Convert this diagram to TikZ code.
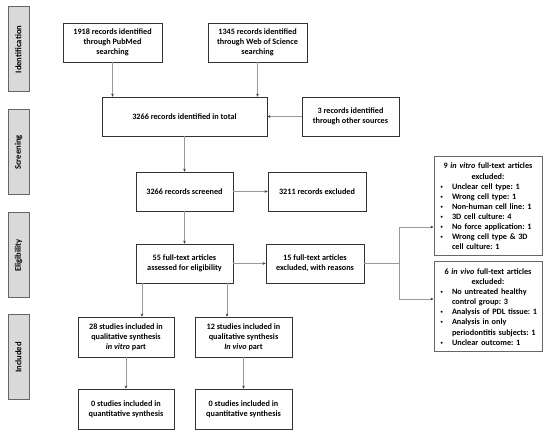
\documentclass[tikz,border=0pt]{standalone}
\usepackage{fontspec}
\setmainfont{Carlito}
\usetikzlibrary{arrows.meta}
\frenchspacing
\begin{document}
\begin{tikzpicture}[x=1pt,y=-1pt,
  every node/.style={font=\fontsize{8.2}{9.8}\selectfont\bfseries},
  box/.style={draw=black!80,line width=0.6pt,align=center,inner sep=1pt,minimum width=#1,minimum height=39pt},
  box/.default=97pt,
  side/.style={draw=gray!80!black,fill=gray!30,line width=1pt,minimum width=85pt,minimum height=21pt,rotate=90,inner sep=0pt,font=\fontsize{8.6}{10}\selectfont\bfseries},
  rbox/.style={draw=gray!80!black,line width=1pt,minimum width=108pt,text width=100pt,align=left,inner xsep=4pt,inner ysep=2pt,font=\fontsize{8.2}{10.1}\selectfont\bfseries},
  conn/.style={draw=gray!80,line width=0.6pt},
  arr/.style={conn,-{Stealth[length=3pt,width=2.6pt,color=black!80]}}]
\useasboundingbox (0,0) rectangle (550,435);
\node[side] (sidI) at (18.5,49.5) {Identification};
\node[side] (sidS) at (18.5,152.5) {Screening};
\node[side] (sidE) at (18.5,255.5) {Eligibility};
\node[side] (sidN) at (18.5,357.5) {Included};

\node[box=99pt] (pub) at (112.5,42.5) {1918 records identified\\through PubMed\\searching};
\node[box=99pt] (wos) at (257.5,42.5) {1345 records identified\\through Web of Science\\searching};
\node[box=165pt] (tot) at (184.5,116.5) {3266 records identified in total};
\node[box=97pt] (oth) at (350.5,116.5) {3 records identified\\through other sources};
\node[box=97pt] (scr) at (184.5,191.5) {3266 records screened};
\node[box=98pt] (ex1) at (317,191.5) {3211 records excluded};
\node[box=97pt] (ful) at (184.5,263.5) {55 full-text articles\\assessed for eligibility};
\node[box=98pt] (ex2) at (315,263.5) {15 full-text articles\\excluded, with reasons};
\node[box=96pt,minimum height=40pt] (s28) at (126,337) {28 studies included in\\qualitative synthesis\\\textit{in vitro} part};
\node[box=97pt,minimum height=40pt] (s12) at (243.5,337) {12 studies included in\\qualitative synthesis\\\textit{In vivo} part};
\node[box=96pt,minimum height=40pt] (q1) at (126,409) {0 studies included in\\quantitative synthesis};
\node[box=97pt,minimum height=40pt] (q2) at (243.5,409) {0 studies included in\\quantitative synthesis};

\newcommand{\bdot}{\makebox[14pt][l]{\hspace{2.5pt}\raisebox{1pt}{\fontsize{4.5}{5}\selectfont\textbullet}}}
\newcommand{\bitem}[1]{\mbox{\bdot#1}\\}
\newcommand{\bcont}[1]{\mbox{\hspace*{14pt}#1}\\}
\node[rbox,minimum height=99pt] (vit) at (488,206.5) {\centering 9 \textit{in vitro} full-text articles\\ excluded:\par\raggedright
\bitem{Unclear cell type: 1}\bitem{Wrong cell type: 1}\bitem{Non-human cell line: 1}\bitem{3D cell culture: 4}\bitem{No force application: 1}\bitem{Wrong cell type \& 3D}\mbox{\hspace*{14pt}cell culture: 1}};
\node[rbox,minimum height=90pt] (viv) at (488,307) {\centering 6 \textit{in vivo} full-text articles\\ excluded:\par\raggedright
\bitem{No untreated healthy}\bcont{control group: 3}\bitem{Analysis of PDL tissue: 1}\bitem{Analysis in only}\bcont{periodontitis subjects: 1}\mbox{\bdot Unclear outcome: 1}};

\draw[arr] (pub.south) -- (pub.south |- tot.north);
\draw[arr] (wos.south) -- (wos.south |- tot.north);
\draw[arr] (oth.west) -- (tot.east);
\draw[arr] (tot.south) -- (scr.north);
\draw[arr] (scr.east) -- (ex1.west);
\draw[arr] (scr.south) -- (ful.north);
\draw[arr] (ful.east) -- (ex2.west);
\coordinate (fl) at (142,283);
\coordinate (fr) at (227,283);
\draw[arr] (fl) -- (fl |- s28.north);
\draw[arr] (fr) -- (fr |- s12.north);
\draw[arr] (s28.south) -- (q1.north);
\draw[arr] (s12.south) -- (q2.north);
\coordinate (br) at (399,263.5);
\coordinate (bt) at (399,227);
\coordinate (bb) at (399,299);
\draw[conn] (ex2.east) -- (br);
\draw[conn] (bt) -- (bb);
\draw[arr] (bt) -- (bt -| vit.west);
\draw[arr] (bb) -- (bb -| viv.west);
\end{tikzpicture}
\end{document}
